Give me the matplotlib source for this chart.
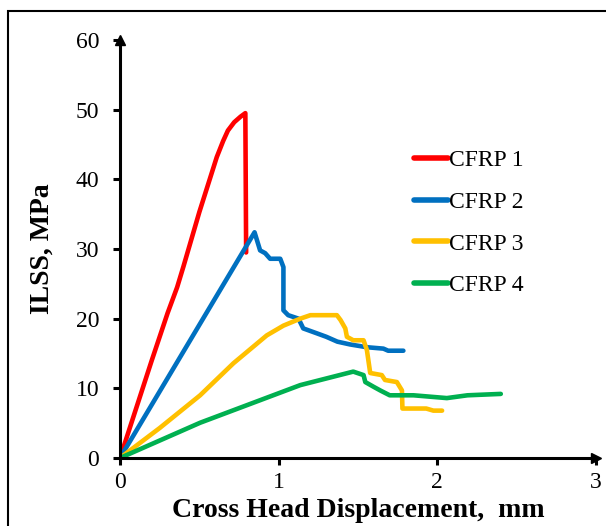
import matplotlib
matplotlib.use("Agg")
import matplotlib.pyplot as plt
from matplotlib.patches import Rectangle

# ---- data ----
x1 = [0, 0.1, 0.2, 0.3, 0.36, 0.4, 0.5, 0.61, 0.65, 0.68, 0.72, 0.76, 0.79, 0.795]
y1 = [0, 7.0, 14.0, 20.8, 24.5, 27.5, 35.3, 43.2, 45.5, 47, 48.2, 49.0, 49.5, 29.5]

x2 = [0, 0.848, 0.883, 0.915, 0.946, 1.01, 1.03, 1.03, 1.06, 1.125, 1.155, 1.24,
      1.30, 1.37, 1.45, 1.556, 1.66, 1.69, 1.786]
y2 = [0, 32.4, 29.8, 29.4, 28.6, 28.6, 27.4, 21.2, 20.5, 20.0, 18.6, 17.9,
      17.4, 16.7, 16.3, 15.9, 15.7, 15.4, 15.4]

x3 = [0, 0.25, 0.505, 0.715, 0.925, 1.03, 1.136, 1.2, 1.28, 1.367, 1.39, 1.42, 1.43,
      1.47, 1.535, 1.556, 1.577, 1.65, 1.67, 1.745, 1.777, 1.78, 1.93, 1.975, 2.03]
y3 = [0, 4.3, 9.0, 13.6, 17.6, 19.0, 20.0, 20.5, 20.5, 20.5, 19.8, 18.6, 17.4,
      16.9, 16.9, 15.5, 12.2, 11.9, 11.2, 10.9, 9.7, 7.1, 7.1, 6.8, 6.8]

x4 = [0, 0.505, 1.136, 1.47, 1.535, 1.546, 1.6, 1.64, 1.70, 1.85, 2.06, 2.19, 2.4]
y4 = [0, 5.06, 10.46, 12.4, 11.9, 10.9, 10.2, 9.7, 9.0, 9.0, 8.6, 9.0, 9.2]

series = [(x1, y1, "CFRP 1", "#ff0000"),
          (x2, y2, "CFRP 2", "#0070c0"),
          (x3, y3, "CFRP 3", "#ffc000"),
          (x4, y4, "CFRP 4", "#00b050")]

xticks = [0, 1, 2, 3]
yticks = [0, 10, 20, 30, 40, 50, 60]

plt.rcParams['font.family'] = ['Liberation Serif', 'DejaVu Serif']

fig = plt.figure(figsize=(6.06, 5.26), dpi=100)
W, H = 606, 526
fig.patches.append(Rectangle((8 / W, -0.1), 1.2, 1 - 11 / H + 0.1, transform=fig.transFigure,
                             fill=False, edgecolor='black', linewidth=1.5, zorder=0))

ax = fig.add_axes([120 / W, 1 - 458 / H, (596 - 120) / W, (458 - 40) / H])
for xs, ys, lab, col in series:
    ax.plot(xs, ys, color=col, linewidth=3.3, label=lab, solid_joinstyle='round',
            solid_capstyle='round')

ax.set_xlim(0, 3)
ax.set_ylim(0, 60)
ax.set_xticks(xticks)
ax.set_yticks(yticks)
ax.spines['top'].set_visible(False)
ax.spines['right'].set_visible(False)
for s in ('left', 'bottom'):
    ax.spines[s].set_linewidth(2.2)
ax.tick_params(axis='both', direction='out', length=5, width=2.2, labelsize=17)
ax.tick_params(axis='y', pad=10)
ax.tick_params(axis='x', pad=5)
ax.plot(1, 0, marker='>', color='black', markersize=7, transform=ax.transAxes, clip_on=False)
ax.plot(0, 1, marker='^', color='black', markersize=7, transform=ax.transAxes, clip_on=False)

ax.set_xlabel("Cross Head Displacement,  mm", fontsize=20, fontweight='bold', labelpad=4)
ax.set_ylabel("ILSS, MPa", fontsize=20, fontweight='bold', labelpad=15)

leg = ax.legend(loc='upper left', bbox_to_anchor=((402 - 120) / (596 - 120), (458 - 138) / (458 - 40)),
                frameon=False, fontsize=17, handlelength=1.45, handletextpad=0.05,
                labelspacing=0.85, borderpad=0)
for l in leg.get_lines():
    l.set_linewidth(4)

fig.savefig("out.png", dpi=100)
